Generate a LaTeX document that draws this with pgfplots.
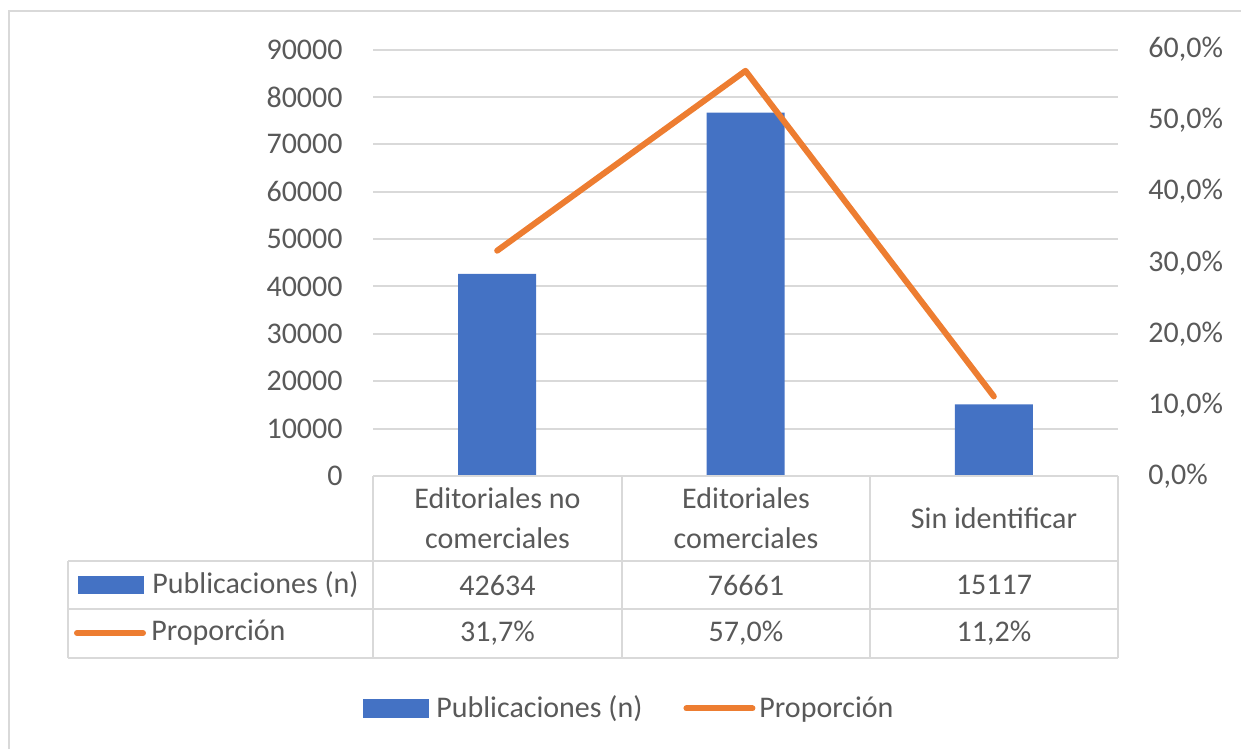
\documentclass[border=0pt]{standalone}
\usepackage{pgfplots}
\pgfplotsset{compat=1.18}
\usepackage{fontspec}
\setmainfont{Carlito}

\definecolor{barblue}{HTML}{4472C4}
\definecolor{lineorange}{HTML}{ED7D31}
\definecolor{txtgray}{HTML}{595959}
\definecolor{gridgray}{HTML}{D9D9D9}

\newcommand{\chartfont}{\fontsize{15}{20}\selectfont}

% 1 px of the reference = 0.5pt; plot area from (373,49.5) to (1118,476) px
\pgfplotsset{
  excelaxis/.style={
    at={(186.5pt,-238pt)}, anchor=south west,
    scale only axis, width=372.5pt, height=213.25pt,
    xmin=-0.5, xmax=2.5,
    hide x axis,
    y axis line style={draw=none},
    major tick length=0pt,
    clip=false,
    scaled y ticks=false,
    ticklabel style={font=\chartfont, text=txtgray, inner sep=0pt},
    /pgf/number format/1000 sep={},
    /pgf/number format/assume math mode=true,
  },
  barkey/.style={legend image code/.code={
    \fill[barblue, draw=none] (0pt,-4.75pt) rectangle (33pt,4.75pt);
    \path[draw=none, fill=none] (0pt,0pt) -- (34.5pt,0pt);}},
  linekey/.style={legend image code/.code={
    \draw[lineorange, line width=3pt, line cap=round] (1.5pt,0pt) -- (34.5pt,0pt);
    \path[draw=none, fill=none] (0pt,0pt) -- (36pt,0pt);}},
}

\begin{document}
\begin{tikzpicture}
\begin{scope}[x=0.5pt, y=-0.5pt]
\path[use as bounding box] (0,0) rectangle (1241,749);
% chart border (only top and left edges visible)
\draw[gridgray, line width=1.2pt] (9,749) -- (9,11) -- (1241,11);
\end{scope}

% bars, left axis
\begin{axis}[
  excelaxis,
  ymin=0, ymax=90000,
  ytick={0,10000,...,90000},
  axis y line*=left,
  ymajorgrids,
  grid style={gridgray, line width=1pt},
  yticklabel style={anchor=east, xshift=-15pt},
  ybar, bar width=39pt,
]
\addplot[fill=barblue, draw=none] coordinates {(0,42634) (1,76661) (2,15117)};
\end{axis}

% proportion line, right axis
\begin{axis}[
  excelaxis,
  ymin=0, ymax=60,
  ytick={0,10,...,60},
  axis y line*=right,
  yticklabel={\pgfmathprintnumber[fixed,fixed zerofill,precision=1,use comma]{\tick}\%},
  yticklabel style={anchor=west, xshift=15pt},
  legend columns=2,
  legend style={at={(0.3455,-0.545)}, anchor=center, draw=none, fill=none,
    font=\chartfont, text=txtgray,
    /tikz/every even column/.append style={column sep=18.5pt}},
]
\addlegendimage{barkey}
\addlegendentry{Publicaciones (n)}
\addplot[lineorange, line width=3pt, line cap=round, line join=round, linekey]
  coordinates {(0,31.7) (1,57.0) (2,11.2)};
\addlegendentry{Proporción}
\end{axis}

% data table
\begin{scope}[x=0.5pt, y=-0.5pt, every node/.style={text=txtgray, font=\chartfont}]
\begin{scope}[gridgray, line width=1pt]
  \draw (373,476) -- (1118,476);
  \draw (68,561) -- (1118,561);
  \draw (68,609) -- (1118,609);
  \draw (68,658) -- (1118,658);
  \draw (68,561) -- (68,658);
  \foreach \xx in {373,622,870,1118} \draw (\xx,476) -- (\xx,658);
\end{scope}
\node[align=center] at (497.5,518) {Editoriales no\\comerciales};
\node[align=center] at (746,518) {Editoriales\\comerciales};
\node at (994,518) {Sin identificar};
\fill[barblue] (78,576) rectangle (144,594);
\node[anchor=west, inner sep=0pt] at (152,585) {Publicaciones (n)};
\draw[lineorange, line width=3pt, line cap=round] (77,633) -- (143,633);
\node[anchor=west, inner sep=0pt] at (151,633) {Proporción};
\node at (497.5,585) {42634};
\node at (746,585) {76661};
\node at (994,585) {15117};
\node at (497.5,633) {31,7\%};
\node at (746,633) {57,0\%};
\node at (994,633) {11,2\%};
\end{scope}
\end{tikzpicture}
\end{document}
